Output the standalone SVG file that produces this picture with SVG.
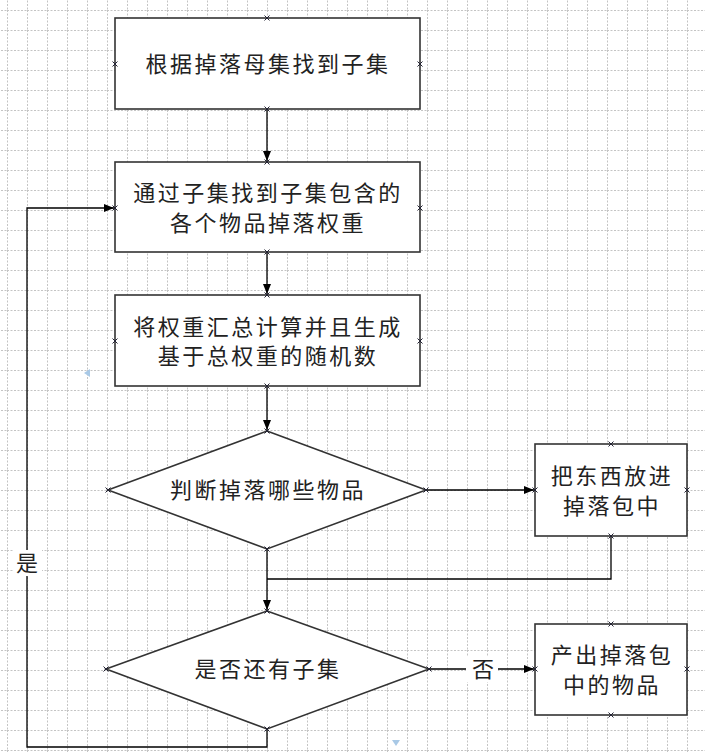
<svg xmlns="http://www.w3.org/2000/svg" width="705" height="752" viewBox="0 0 705 752">
<defs>
<pattern id="grid" x="7" y="10" width="20" height="20" patternUnits="userSpaceOnUse">
<line x1="0.5" y1="0" x2="0.5" y2="20" stroke="#c4c4c4" stroke-width="1" stroke-dasharray="2,1.5"/>
<line x1="0" y1="0.5" x2="20" y2="0.5" stroke="#c4c4c4" stroke-width="1" stroke-dasharray="2,1.5"/>
</pattern>
<marker id="arr" viewBox="0 0 10 10" refX="10" refY="5" markerWidth="10" markerHeight="10" markerUnits="userSpaceOnUse" orient="auto">
<path d="M0,1 L10,5 L0,9 Z" fill="#000"/>
</marker>
<path id="xm" d="M-2.5,-2.5 L2.5,2.5 M-2.5,2.5 L2.5,-2.5" stroke="#223" stroke-width="1" fill="none"/>
</defs>
<style>
.box{fill:#fff;stroke:#333;stroke-width:1.6}
.t{font-family:"Noto Sans CJK SC","Noto Sans CJK TC",sans-serif;font-size:22px;fill:#222;text-anchor:middle;letter-spacing:2.5px}
.c{fill:none;stroke:#000;stroke-width:1.3}
</style>
<rect width="705" height="752" fill="#fff"/>
<rect width="705" height="752" fill="url(#grid)"/>
<path d="M90,369 L84,373 L90,377 Z" fill="#a9c9e6"/>
<path d="M392,740 L400,740 L396,746 Z" fill="#a9c9e6"/>

<g id="connectors">
<path class="c" d="M267,109 V161" marker-end="url(#arr)"/>
<path class="c" d="M267,252 V294" marker-end="url(#arr)"/>
<path class="c" d="M267,386 V430" marker-end="url(#arr)"/>
<path class="c" d="M426,490 H534" marker-end="url(#arr)"/>
<path class="c" d="M267,549 V610" marker-end="url(#arr)"/>
<path class="c" d="M611,536 V579 H267"/>
<path class="c" d="M429,669 H534" marker-end="url(#arr)"/>
<path class="c" d="M267,729 V747 H27 V208 H114" marker-end="url(#arr)"/>
<rect x="466" y="656" width="32" height="26" fill="#fff"/>
<text class="t" x="483" y="677" style="letter-spacing:0">否</text>
<rect x="14" y="550" width="28" height="26" fill="#fff"/>
<text class="t" x="27" y="571" style="letter-spacing:0">是</text>
</g>

<g id="n1">
<rect class="box" x="115" y="18" width="305" height="91"/>
<text class="t" x="268" y="72">根据掉落母集找到子集</text>
</g>
<g id="n2">
<rect class="box" x="115" y="162" width="305" height="90"/>
<text class="t" x="268" y="201">通过子集找到子集包含的</text>
<text class="t" x="268" y="231">各个物品掉落权重</text>
</g>
<g id="n3">
<rect class="box" x="115" y="295" width="305" height="91"/>
<text class="t" x="268" y="335">将权重汇总计算并且生成</text>
<text class="t" x="268" y="364">基于总权重的随机数</text>
</g>
<g id="n4">
<path class="box" d="M267,431 L426,490 L267,549 L108,490 Z"/>
<text class="t" x="268" y="498">判断掉落哪些物品</text>
</g>
<g id="n5">
<rect class="box" x="535" y="444" width="152" height="92"/>
<text class="t" x="612" y="484">把东西放进</text>
<text class="t" x="612" y="514">掉落包中</text>
</g>
<g id="n6">
<path class="box" d="M267,611 L429,669 L267,729 L106,669 Z"/>
<text class="t" x="268" y="677">是否还有子集</text>
</g>
<g id="n7">
<rect class="box" x="535" y="624" width="152" height="91"/>
<text class="t" x="612" y="663">产出掉落包</text>
<text class="t" x="612" y="693">中的物品</text>
</g>

<g id="points">
<use href="#xm" x="267" y="18"/><use href="#xm" x="115" y="64"/><use href="#xm" x="420" y="64"/><use href="#xm" x="267" y="109"/>
<use href="#xm" x="267" y="162"/><use href="#xm" x="115" y="208"/><use href="#xm" x="420" y="208"/><use href="#xm" x="267" y="252"/>
<use href="#xm" x="267" y="295"/><use href="#xm" x="115" y="341"/><use href="#xm" x="420" y="341"/><use href="#xm" x="267" y="386"/>
<use href="#xm" x="267" y="431"/><use href="#xm" x="108" y="490"/><use href="#xm" x="426" y="490"/><use href="#xm" x="267" y="549"/>
<use href="#xm" x="611" y="444"/><use href="#xm" x="535" y="490"/><use href="#xm" x="687" y="490"/><use href="#xm" x="611" y="536"/>
<use href="#xm" x="267" y="611"/><use href="#xm" x="106" y="669"/><use href="#xm" x="429" y="669"/><use href="#xm" x="267" y="729"/>
<use href="#xm" x="611" y="624"/><use href="#xm" x="535" y="669"/><use href="#xm" x="687" y="669"/><use href="#xm" x="611" y="715"/>
</g>
</svg>
